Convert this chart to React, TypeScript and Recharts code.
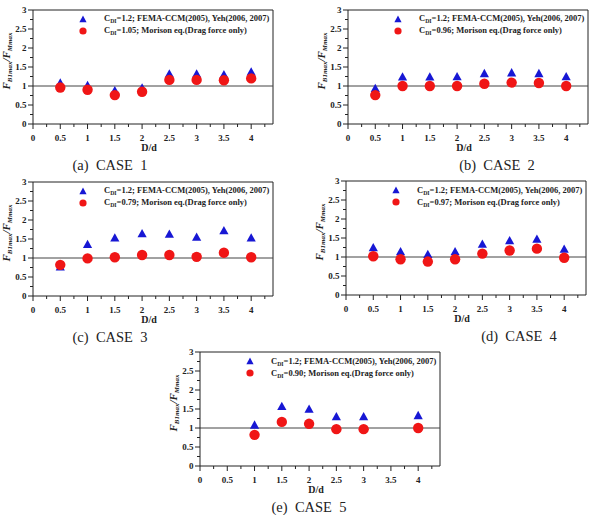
import React from 'react';
import { ScatterChart, Scatter, XAxis, YAxis, ReferenceLine, Legend } from 'recharts';

const serif = '"Liberation Serif", "Times New Roman", Times, serif';

// Axis ticks (major ticks carry labels, quarter steps are minor ticks)
const xTicks = [0, 0.25, 0.5, 0.75, 1, 1.25, 1.5, 1.75, 2, 2.25, 2.5, 2.75, 3, 3.25, 3.5, 3.75, 4, 4.25];
const yTicks = [0, 0.25, 0.5, 0.75, 1, 1.25, 1.5, 1.75, 2, 2.25, 2.5, 2.75, 3];
const xDomain = [0, 4.4];
const yDomain = [0, 3];

// CASE 1
const dd1 = [0.5, 1, 1.5, 2, 2.5, 3, 3.5, 4];
const fema1 = [1.08, 1.02, 0.88, 0.95, 1.32, 1.32, 1.3, 1.37];
const morison1 = [0.96, 0.9, 0.76, 0.85, 1.16, 1.16, 1.15, 1.2];

// CASE 2
const dd2 = [0.5, 1, 1.5, 2, 2.5, 3, 3.5, 4];
const fema2 = [0.94, 1.24, 1.24, 1.25, 1.33, 1.35, 1.33, 1.25];
const morison2 = [0.76, 1.0, 1.0, 1.0, 1.06, 1.09, 1.08, 1.0];

// CASE 3
const dd3 = [0.5, 1, 1.5, 2, 2.5, 3, 3.5, 4];
const fema3 = [0.77, 1.36, 1.53, 1.64, 1.63, 1.55, 1.72, 1.53];
const morison3 = [0.82, 0.99, 1.02, 1.08, 1.08, 1.03, 1.14, 1.02];

// CASE 4
const dd4 = [0.5, 1, 1.5, 2, 2.5, 3, 3.5, 4];
const fema4 = [1.25, 1.14, 1.07, 1.14, 1.34, 1.43, 1.47, 1.21];
const morison4 = [1.02, 0.94, 0.88, 0.94, 1.09, 1.17, 1.22, 0.98];

// CASE 5
const dd5 = [1, 1.5, 2, 2.5, 3, 4];
const fema5 = [1.08, 1.57, 1.5, 1.3, 1.3, 1.33];
const morison5 = [0.82, 1.16, 1.11, 0.97, 0.97, 1.0];

// Drag coefficients shown in the legends
const femaCdi = ['1.2', '1.2', '1.2', '1.2', '1.2'];
const morisonCdi = ['1.05', '0.96', '0.79', '0.97', '0.90'];
const captions = ['(a)  CASE  1', '(b)  CASE  2', '(c)  CASE  3', '(d)  CASE  4', '(e)  CASE  5'];

const PLOT_W = 240;
const PLOT_H = 114;
const AXIS_W = 40;
const TOP_PAD = 10;
const RIGHT_PAD = 10;
const AXIS_H = 40;

const BLUE = '#1717d4';
const RED = '#f01616';
const INK = '#222';

function XTick(props: any) {
  const { x, y, payload } = props;
  const v = payload.value as number;
  const major = Math.abs(v * 2 - Math.round(v * 2)) < 1e-6;
  return (
    <g>
      <line x1={x} x2={x} y1={y} y2={y + (major ? 5 : 3)} stroke={INK} strokeWidth={1} />
      {major && (
        <text x={x} y={y + 16.5} textAnchor="middle" fontFamily={serif} fontWeight="bold" fontSize={9} fill={INK}>
          {String(v)}
        </text>
      )}
    </g>
  );
}

function YTick(props: any) {
  const { x, y, payload } = props;
  const v = payload.value as number;
  const major = Math.abs(v * 2 - Math.round(v * 2)) < 1e-6;
  return (
    <g>
      <line x1={x} x2={x - (major ? 5 : 3)} y1={y} y2={y} stroke={INK} strokeWidth={1} />
      {major && (
        <text x={x - 6.5} y={y + 3.2} textAnchor="end" fontFamily={serif} fontWeight="bold" fontSize={9} fill={INK}>
          {String(v)}
        </text>
      )}
    </g>
  );
}

function Triangle(props: any) {
  const { cx, cy } = props;
  if (cx == null || cy == null) return null;
  const h = 4.6;
  return <polygon points={`${cx},${cy - h} ${cx + h},${cy + h * 0.8} ${cx - h},${cy + h * 0.8}`} fill={BLUE} />;
}

function Dot(props: any) {
  const { cx, cy } = props;
  if (cx == null || cy == null) return null;
  return <circle cx={cx} cy={cy} r={5.2} fill={RED} />;
}

function LegendRow({ icon, coef, rest }: { icon: 'tri' | 'dot'; coef: string; rest: string }) {
  return (
    <div style={{ display: 'flex', alignItems: 'center', height: 12, whiteSpace: 'nowrap' }}>
      <svg width={10} height={10} style={{ display: 'block' }}>
        {icon === 'tri' ? (
          <polygon points="5,1.5 8.6,8.2 1.4,8.2" fill={BLUE} />
        ) : (
          <circle cx={5} cy={5} r={3.6} fill={RED} />
        )}
      </svg>
      <span
        style={{
          marginLeft: 16,
          fontFamily: serif,
          fontWeight: 'bold',
          fontSize: 8.5,
          color: INK,
          lineHeight: '12px',
        }}
      >
        C<span style={{ fontSize: 5.8, position: 'relative', top: 2 }}>DI</span>={coef}; {rest}
      </span>
    </div>
  );
}

type PanelProps = {
  dd: number[];
  fema: number[];
  morison: number[];
  femaCoef: string;
  morisonCoef: string;
  caption: string;
  plotLeft: number;
  plotTop: number;
  captionX: number;
};

function Panel({ dd, fema, morison, femaCoef, morisonCoef, caption, plotLeft, plotTop, captionX }: PanelProps) {
  const femaData = dd.map((x, i) => ({ x, y: fema[i] }));
  const morisonData = dd.map((x, i) => ({ x, y: morison[i] }));
  const chartLeft = plotLeft - AXIS_W;
  const chartTop = plotTop - TOP_PAD;
  const plotBottom = plotTop + PLOT_H;
  return (
    <>
      <div style={{ position: 'absolute', left: chartLeft, top: chartTop }}>
        <ScatterChart
          width={AXIS_W + PLOT_W + RIGHT_PAD}
          height={TOP_PAD + PLOT_H + AXIS_H}
          margin={{ top: TOP_PAD, right: RIGHT_PAD, bottom: 0, left: 0 }}
        >
          <XAxis
            type="number"
            dataKey="x"
            domain={xDomain}
            ticks={xTicks}
            interval={0}
            allowDataOverflow
            height={AXIS_H}
            tickSize={0}
            tickMargin={0}
            tickLine={false}
            tick={<XTick />}
            axisLine={{ stroke: INK, strokeWidth: 1 }}
          />
          <YAxis
            type="number"
            dataKey="y"
            domain={yDomain}
            ticks={yTicks}
            interval={0}
            allowDataOverflow
            width={AXIS_W}
            tickSize={0}
            tickMargin={0}
            tickLine={false}
            tick={<YTick />}
            axisLine={{ stroke: INK, strokeWidth: 1 }}
          />
          <ReferenceLine y={3} stroke={INK} strokeWidth={1} />
          <ReferenceLine x={4.4} stroke={INK} strokeWidth={1} />
          <ReferenceLine y={1} stroke="#444" strokeWidth={1} />
          <Legend
            layout="vertical"
            align="center"
            verticalAlign="middle"
            wrapperStyle={{ left: AXIS_W + 45, top: TOP_PAD + 3, width: 'auto', height: 'auto' }}
            content={() => (
              <div>
                <LegendRow icon="tri" coef={femaCoef} rest="FEMA-CCM(2005), Yeh(2006, 2007)" />
                <LegendRow icon="dot" coef={morisonCoef} rest="Morison eq.(Drag force only)" />
              </div>
            )}
          />
          <Scatter name="FEMA-CCM" data={femaData} shape={<Triangle />} isAnimationActive={false} />
          <Scatter name="Morison" data={morisonData} shape={<Dot />} isAnimationActive={false} />
        </ScatterChart>
      </div>
      {/* y-axis title */}
      <div
        style={{
          position: 'absolute',
          left: plotLeft - 26,
          top: plotTop + PLOT_H / 2 - 6,
          transform: 'translate(-50%, -50%) rotate(-90deg)',
          whiteSpace: 'nowrap',
          fontFamily: serif,
          fontWeight: 'bold',
          fontStyle: 'italic',
          fontSize: 11,
          color: INK,
          lineHeight: '12px',
        }}
      >
        F<span style={{ fontSize: 7, position: 'relative', top: 2 }}>B1max</span>/F
        <span style={{ fontSize: 7, position: 'relative', top: 2 }}>Mmax</span>
      </div>
      {/* x-axis title */}
      <div
        style={{
          position: 'absolute',
          left: plotLeft + 116,
          top: plotBottom + 23,
          transform: 'translate(-50%, -50%)',
          fontFamily: serif,
          fontWeight: 'bold',
          fontSize: 10,
          color: INK,
          whiteSpace: 'nowrap',
        }}
      >
        D/d
      </div>
      {/* panel caption */}
      <div
        style={{
          position: 'absolute',
          left: captionX,
          top: plotBottom + 41,
          transform: 'translate(-50%, -50%)',
          fontFamily: serif,
          fontSize: 14.5,
          color: INK,
          whiteSpace: 'pre',
        }}
      >
        {caption}
      </div>
    </>
  );
}

export default function App() {
  return (
    <div style={{ position: 'absolute', left: 0, top: 0, width: 593, height: 515, background: '#fff', overflow: 'hidden' }}>
      <Panel dd={dd1} fema={fema1} morison={morison1} femaCoef={femaCdi[0]} morisonCoef={morisonCdi[0]} caption={captions[0]} plotLeft={33} plotTop={9.5} captionX={110} />
      <Panel dd={dd2} fema={fema2} morison={morison2} femaCoef={femaCdi[1]} morisonCoef={morisonCdi[1]} caption={captions[1]} plotLeft={348} plotTop={9.5} captionX={497} />
      <Panel dd={dd3} fema={fema3} morison={morison3} femaCoef={femaCdi[2]} morisonCoef={morisonCdi[2]} caption={captions[2]} plotLeft={33} plotTop={181.5} captionX={110} />
      <Panel dd={dd4} fema={fema4} morison={morison4} femaCoef={femaCdi[3]} morisonCoef={morisonCdi[3]} caption={captions[3]} plotLeft={346} plotTop={181} captionX={519} />
      <Panel dd={dd5} fema={fema5} morison={morison5} femaCoef={femaCdi[4]} morisonCoef={morisonCdi[4]} caption={captions[4]} plotLeft={200} plotTop={352} captionX={309} />
    </div>
  );
}
